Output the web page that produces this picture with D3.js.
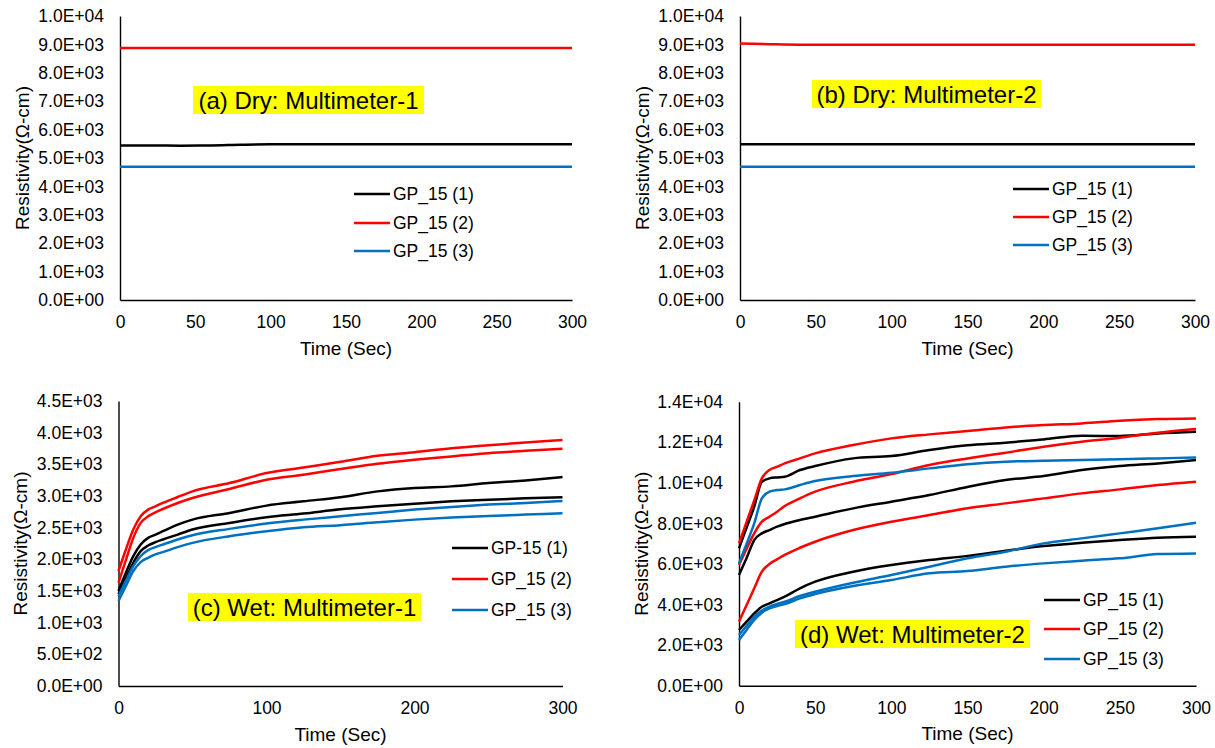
<!DOCTYPE html>
<html>
<head>
<meta charset="utf-8">
<script src="https://cdn.jsdelivr.net/npm/d3@7"></script>
<style>
body { margin: 0; background: #fff; }
text { font-family: "Liberation Sans", Arial, sans-serif; fill: #000; }
</style>
</head>
<body>
<div id="container"></div>
<script>
// ---- data ----
var dryTime = [0, 20, 40, 60, 80, 100, 150, 200, 250, 300];
var dryA1 = [5440, 5440, 5435, 5440, 5465, 5480, 5480, 5480, 5480, 5480];
var dryA2 = [8870, 8870, 8870, 8870, 8870, 8870, 8870, 8870, 8870, 8870];
var dryA3 = [4690, 4690, 4690, 4690, 4690, 4690, 4690, 4690, 4690, 4690];
var dryB1 = [5480, 5480, 5480, 5480, 5480, 5480, 5480, 5480, 5480, 5480];
var dryB2 = [9030, 9005, 8990, 8990, 8990, 8990, 8990, 8990, 8990, 8990];
var dryB3 = [4690, 4690, 4690, 4690, 4690, 4690, 4690, 4690, 4690, 4690];

var wetTime = [0, 5, 10, 15, 20, 25, 30, 40, 50, 75, 100, 125, 150, 175, 200, 225, 250, 275, 300];
// (c) two runs per sample
var wetC1a = [1500, 1788, 2051, 2234, 2339, 2391, 2444, 2549, 2627, 2732, 2848, 2916, 2982, 3073, 3126, 3152, 3204, 3246, 3299];
var wetC1b = [1447, 1700, 1946, 2129, 2218, 2271, 2313, 2391, 2470, 2575, 2664, 2722, 2790, 2837, 2879, 2916, 2942, 2963, 2979];
var wetC2a = [1815, 2155, 2470, 2680, 2785, 2837, 2890, 2984, 3073, 3204, 3362, 3451, 3540, 3634, 3692, 3755, 3802, 3844, 3886];
var wetC2b = [1631, 1990, 2339, 2575, 2680, 2743, 2795, 2890, 2968, 3110, 3257, 3336, 3425, 3509, 3572, 3624, 3676, 3713, 3745];
var wetC3a = [1421, 1660, 1893, 2051, 2145, 2192, 2234, 2313, 2381, 2481, 2565, 2627, 2680, 2732, 2785, 2827, 2864, 2890, 2921];
var wetC3b = [1342, 1580, 1815, 1956, 2024, 2077, 2114, 2192, 2260, 2365, 2444, 2507, 2540, 2586, 2627, 2659, 2685, 2706, 2727];
// (d) three runs per sample
var wetD1a = [6770, 7800, 8823, 10056, 10220, 10269, 10302, 10631, 10828, 11206, 11321, 11617, 11850, 11978, 12142, 12323, 12307, 12438, 12520];
var wetD1b = [5455, 6300, 7180, 7509, 7673, 7838, 7969, 8166, 8331, 8741, 9070, 9398, 9800, 10138, 10335, 10631, 10828, 10959, 11124];
var wetD1c = [2745, 3156, 3566, 3895, 4059, 4220, 4388, 4799, 5127, 5620, 5949, 6195, 6400, 6650, 6885, 7049, 7181, 7295, 7345];
var wetD2a = [7016, 8080, 9136, 10220, 10631, 10795, 10960, 11206, 11452, 11863, 12192, 12389, 12560, 12734, 12849, 12931, 13062, 13145, 13177];
var wetD2b = [5948, 6750, 7509, 8084, 8331, 8577, 8856, 9234, 9563, 10056, 10434, 10877, 11200, 11485, 11781, 12027, 12224, 12471, 12651];
var wetD2c = [3156, 3977, 4799, 5620, 6000, 6230, 6450, 6800, 7098, 7673, 8084, 8413, 8750, 8988, 9234, 9481, 9678, 9891, 10056];
var wetD3a = [6030, 7000, 8002, 9234, 9563, 9645, 9678, 9891, 10089, 10335, 10499, 10713, 10915, 11041, 11091, 11124, 11157, 11206, 11255];
var wetD3b = [2498, 2950, 3402, 3700, 3895, 4030, 4141, 4421, 4634, 5078, 5456, 5867, 6280, 6605, 7016, 7263, 7509, 7756, 8035];
var wetD3c = [2252, 2750, 3238, 3600, 3813, 3930, 4026, 4306, 4519, 4914, 5209, 5538, 5650, 5866, 6030, 6162, 6277, 6490, 6523];

var legendDry = ["GP_15 (1)", "GP_15 (2)", "GP_15 (3)"];
var legendWetC = ["GP-15 (1)", "GP_15 (2)", "GP_15 (3)"];
var colors = ["#000000", "#ff0000", "#0070c0"];

var panels = [
  {left: 120, right: 572, top: 16, bottom: 300, yMax: 10000, yStep: 1000, xStep: 50,
   time: dryTime, series: [[dryA1, 0], [dryA2, 1], [dryA3, 2]],
   title: "(a) Dry: Multimeter-1", box: [193, 86, 231, 28],
   legend: legendDry, legX: 354, legY: [194, 223, 251]},
  {left: 740, right: 1195, top: 16, bottom: 300, yMax: 10000, yStep: 1000, xStep: 50,
   time: dryTime, series: [[dryB1, 0], [dryB2, 1], [dryB3, 2]],
   title: "(b) Dry: Multimeter-2", box: [812, 80, 229, 28],
   legend: legendDry, legX: 1013, legY: [189, 217, 245]},
  {left: 118.5, right: 562.5, top: 401, bottom: 686, yMax: 4500, yStep: 500, xStep: 100,
   time: wetTime, series: [[wetC1a, 0], [wetC1b, 0], [wetC2a, 1], [wetC2b, 1], [wetC3a, 2], [wetC3b, 2]],
   title: "(c) Wet: Multimeter-1", box: [188, 593, 233, 28],
   legend: legendWetC, legX: 452, legY: [548, 579, 610]},
  {left: 739, right: 1196, top: 401.7, bottom: 685.7, yMax: 14000, yStep: 2000, xStep: 50,
   time: wetTime, series: [[wetD1a, 0], [wetD1b, 0], [wetD1c, 0], [wetD2a, 1], [wetD2b, 1], [wetD2c, 1], [wetD3a, 2], [wetD3b, 2], [wetD3c, 2]],
   title: "(d) Wet: Multimeter-2", box: [795, 620, 235, 28],
   legend: legendDry, legX: 1044, legY: [600, 629, 659]}
];

var svg = d3.select("#container").append("svg")
            .attr("width", 1215).attr("height", 748);

// 1.0E+04 style labels
function fmtE(v) {
  var s = v.toExponential(1).split("e");
  var e = parseInt(s[1]);
  return s[0] + "E" + (e < 0 ? "-" : "+") + (Math.abs(e) < 10 ? "0" : "") + Math.abs(e);
}

panels.forEach(function(p) {
  var x = d3.scaleLinear().domain([0, 300]).range([p.left, p.right]);
  var y = d3.scaleLinear().domain([0, p.yMax]).range([p.bottom, p.top]);
  var g = svg.append("g");

  var yAxis = d3.axisLeft(y)
                .tickValues(d3.range(0, p.yMax + 1, p.yStep))
                .tickFormat(fmtE).tickSize(0).tickSizeOuter(0).tickPadding(16);
  var xAxis = d3.axisBottom(x)
                .tickValues(d3.range(0, 301, p.xStep))
                .tickFormat(d3.format("d")).tickSize(0).tickSizeOuter(0).tickPadding(16);

  var ya = g.append("g").attr("transform", "translate(" + p.left + ",0)").call(yAxis);
  var xa = g.append("g").attr("transform", "translate(0," + p.bottom + ")").call(xAxis);
  [ya, xa].forEach(function(a) {
    a.attr("font-family", null).attr("font-size", null);
    a.select(".domain").attr("stroke", "#000").attr("stroke-width", 1.4);
    a.selectAll("text").style("font-size", "17.5px");
  });

  // axis titles
  g.append("text")
   .attr("x", (p.left + p.right) / 2).attr("y", p.bottom + 48)
   .attr("text-anchor", "middle").attr("dominant-baseline", "central")
   .style("font-size", "19px").text("Time (Sec)");
  g.append("text")
   .attr("transform", "translate(" + (p.left - 98) + "," + ((p.top + p.bottom) / 2) + ") rotate(-90)")
   .attr("text-anchor", "middle").attr("dominant-baseline", "central")
   .style("font-size", "19px").text("Resistivity(Ω-cm)");

  // curves
  var line = d3.line()
               .x(function(d, i) { return x(p.time[i]); })
               .y(function(d) { return y(d); })
               .curve(d3.curveMonotoneX);
  g.append("g").selectAll("path")
   .data(p.series)
   .enter().append("path")
   .attr("d", function(d) { return line(d[0]); })
   .attr("fill", "none")
   .attr("stroke", function(d) { return colors[d[1]]; })
   .attr("stroke-width", 2.5);

  // highlighted panel label
  g.append("rect")
   .attr("x", p.box[0]).attr("y", p.box[1])
   .attr("width", p.box[2]).attr("height", p.box[3])
   .attr("fill", "#ffff00");
  g.append("text")
   .attr("x", p.box[0] + p.box[2] / 2).attr("y", p.box[1] + p.box[3] / 2)
   .attr("text-anchor", "middle").attr("dominant-baseline", "central")
   .style("font-size", "24px").text(p.title);

  // legend
  var leg = g.append("g").selectAll("g")
             .data(p.legend)
             .enter().append("g")
             .attr("transform", function(d, i) { return "translate(" + p.legX + "," + p.legY[i] + ")"; });
  leg.append("line")
     .attr("x1", 0).attr("x2", 36).attr("y1", 0).attr("y2", 0)
     .attr("stroke", function(d, i) { return colors[i]; })
     .attr("stroke-width", 2.5);
  leg.append("text")
     .attr("x", 39).attr("y", 0)
     .attr("dominant-baseline", "central")
     .style("font-size", "17.5px")
     .text(function(d) { return d; });
});
</script>
</body>
</html>
